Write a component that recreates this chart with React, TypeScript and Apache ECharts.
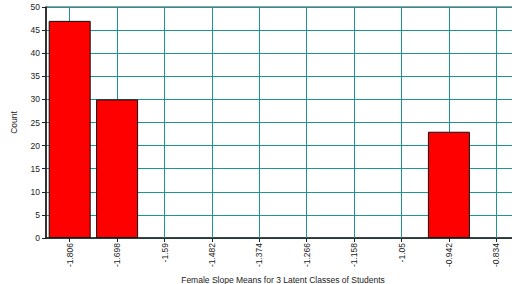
import React, { useEffect, useRef } from "react";
import * as echarts from "echarts";

const categories = ["-1.806", "-1.698", "-1.59", "-1.482", "-1.374", "-1.266", "-1.158", "-1.05", "-0.942", "-0.834"];
const counts: (number | null)[] = [47, 30, null, null, null, null, null, null, 23, null];
const xTitle = "Female Slope Means for 3 Latent Classes of Students";
const yTitle = "Count";

const GRID_COLOR = "#1f9494";
const FONT = "Liberation Sans, Arial, sans-serif";

export default function App() {
  const ref = useRef<HTMLDivElement>(null);
  useEffect(() => {
    if (!ref.current) return;
    const chart = echarts.init(ref.current, undefined, { renderer: "svg" });
    chart.setOption({
      animation: false,
      backgroundColor: "#ffffff",
      textStyle: { fontFamily: FONT },
      grid: {
        left: 46,
        top: 7,
        width: 474,
        height: 231,
        outerBoundsMode: "none",
        containLabel: false,
        show: true,
        borderColor: "#3a3a3a",
        borderWidth: 1,
        backgroundColor: "transparent",
      },
      xAxis: {
        type: "category",
        data: categories,
        boundaryGap: true,
        name: xTitle,
        nameLocation: "middle",
        nameGap: 33,
        nameTextStyle: { fontSize: 8.5, color: "#222", fontFamily: FONT },
        axisLine: { show: true, lineStyle: { color: "#222", width: 1.5 } },
        axisTick: { show: true, alignWithLabel: true, length: 4, lineStyle: { color: "#222" } },
        axisLabel: { rotate: 90, fontSize: 8.5, color: "#222", margin: 5, interval: 0, fontFamily: FONT },
        splitLine: { show: false },
      },
      yAxis: {
        type: "value",
        min: 0,
        max: 50,
        interval: 5,
        name: yTitle,
        nameLocation: "middle",
        nameGap: 28,
        nameTextStyle: { fontSize: 8.5, color: "#222", fontFamily: FONT },
        axisLine: { show: true, lineStyle: { color: "#111", width: 1.5 } },
        axisTick: { show: true, length: 4, lineStyle: { color: "#222" } },
        axisLabel: { fontSize: 8.5, color: "#222", margin: 6, fontFamily: FONT },
        splitLine: { show: true, lineStyle: { color: GRID_COLOR, width: 1 } },
      },
      series: [
        {
          type: "bar",
          data: counts,
          barWidth: 42,
          z: 2,
          itemStyle: { color: "#ff0000", borderColor: "#111", borderWidth: 1 },
          markLine: {
            silent: true,
            z: 1,
            symbol: ["none", "none"],
            label: { show: false },
            lineStyle: { color: GRID_COLOR, width: 1, type: "solid" },
            data: categories.map((c) => ({ xAxis: c })),
          },
        },
      ],
    });
    return () => chart.dispose();
  }, []);
  return (
    <div
      ref={ref}
      style={{ position: "fixed", left: 0, top: 0, width: 512, height: 284 }}
    />
  );
}
